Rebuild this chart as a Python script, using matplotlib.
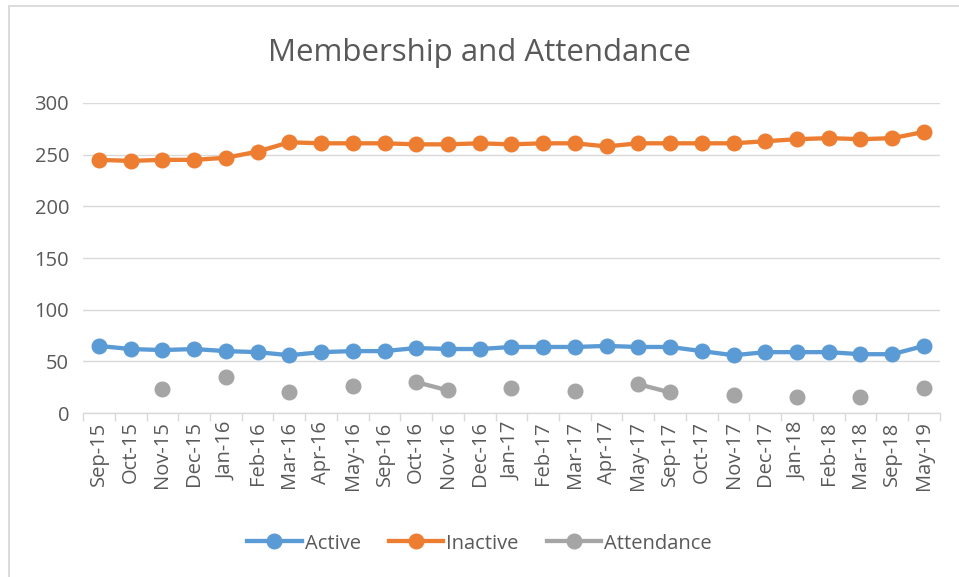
import numpy as np
import matplotlib.pyplot as plt
import matplotlib.ticker as ticker
from matplotlib.patches import Rectangle

months = ['Sep-15', 'Oct-15', 'Nov-15', 'Dec-15', 'Jan-16', 'Feb-16', 'Mar-16', 'Apr-16', 'May-16',
          'Sep-16', 'Oct-16', 'Nov-16', 'Dec-16', 'Jan-17', 'Feb-17', 'Mar-17', 'Apr-17', 'May-17',
          'Sep-17', 'Oct-17', 'Nov-17', 'Dec-17', 'Jan-18', 'Feb-18', 'Mar-18', 'Sep-18', 'May-19']
active = [65, 62, 61, 62, 60, 59, 56, 59, 60, 60, 63, 62, 62, 64, 64, 64, 65, 64, 64, 60, 56, 59, 59, 59, 57, 57, 65]
inactive = [245, 244, 245, 245, 247, 253, 262, 261, 261, 261, 260, 260, 261, 260, 261, 261, 258, 261, 261, 261,
            261, 263, 265, 266, 265, 266, 272]
nan = np.nan
attendance = [nan, nan, 23, nan, 35, nan, 20, nan, 26, nan, 30, 22, nan, 24, nan, 21, nan, 28, 20, nan,
              18, nan, 16, nan, 16, nan, 24]

plt.rcParams['font.family'] = ['Open Sans', 'DejaVu Sans']
txt = '#595959'

fig = plt.figure(figsize=(9.59, 5.77), dpi=100)
# chart frame, only left and top edges are visible in the crop
fig.add_artist(Rectangle((8.5 / 959, -0.5), 2, 0.5 + 1 - 5.5 / 577, transform=fig.transFigure,
                         fill=False, edgecolor='#d9d9d9', lw=1.3))
ax = fig.add_axes([0.0866, 0.284, 0.8934, 0.5375])

x = np.arange(len(months))
ax.plot(x, active, color='#5B9BD5', lw=3.1, marker='o', ms=10.5, label='Active')
ax.plot(x, inactive, color='#ED7D31', lw=3.1, marker='o', ms=10.5, label='Inactive')
ax.plot(x, attendance, color='#A5A5A5', lw=3.1, marker='o', ms=10.5, label='Attendance')

ax.set_xlim(-0.5, len(months) - 0.5)
ax.set_ylim(0, 300)
ax.yaxis.set_major_locator(ticker.MultipleLocator(50))
ax.grid(axis='y', color='#d9d9d9', lw=1)
ax.set_axisbelow(True)
for s in ['top', 'right', 'left']:
    ax.spines[s].set_visible(False)
ax.spines['bottom'].set_color('#d9d9d9')
ax.spines['bottom'].set_linewidth(1)

ax.set_xticks(x)
ax.set_xticklabels(months, rotation=90, fontsize=14.5, color=txt)
ax.xaxis.set_minor_locator(ticker.FixedLocator(np.arange(-0.5, len(months), 1)))
ax.tick_params(axis='x', which='major', length=0, pad=6)
ax.tick_params(axis='x', which='minor', length=6, color='#d9d9d9', width=1)
ax.tick_params(axis='y', length=0, labelsize=14.5, labelcolor=txt, pad=10)

fig.suptitle('Membership and Attendance', y=0.934, fontsize=22.5, color=txt)
fig.legend(loc='center', bbox_to_anchor=(0.5, 0.058), ncol=3, frameon=False, fontsize=14.5,
           labelcolor=txt, handlelength=2.7, handletextpad=0.15, columnspacing=1.4)

plt.savefig('out.png', dpi=100)
